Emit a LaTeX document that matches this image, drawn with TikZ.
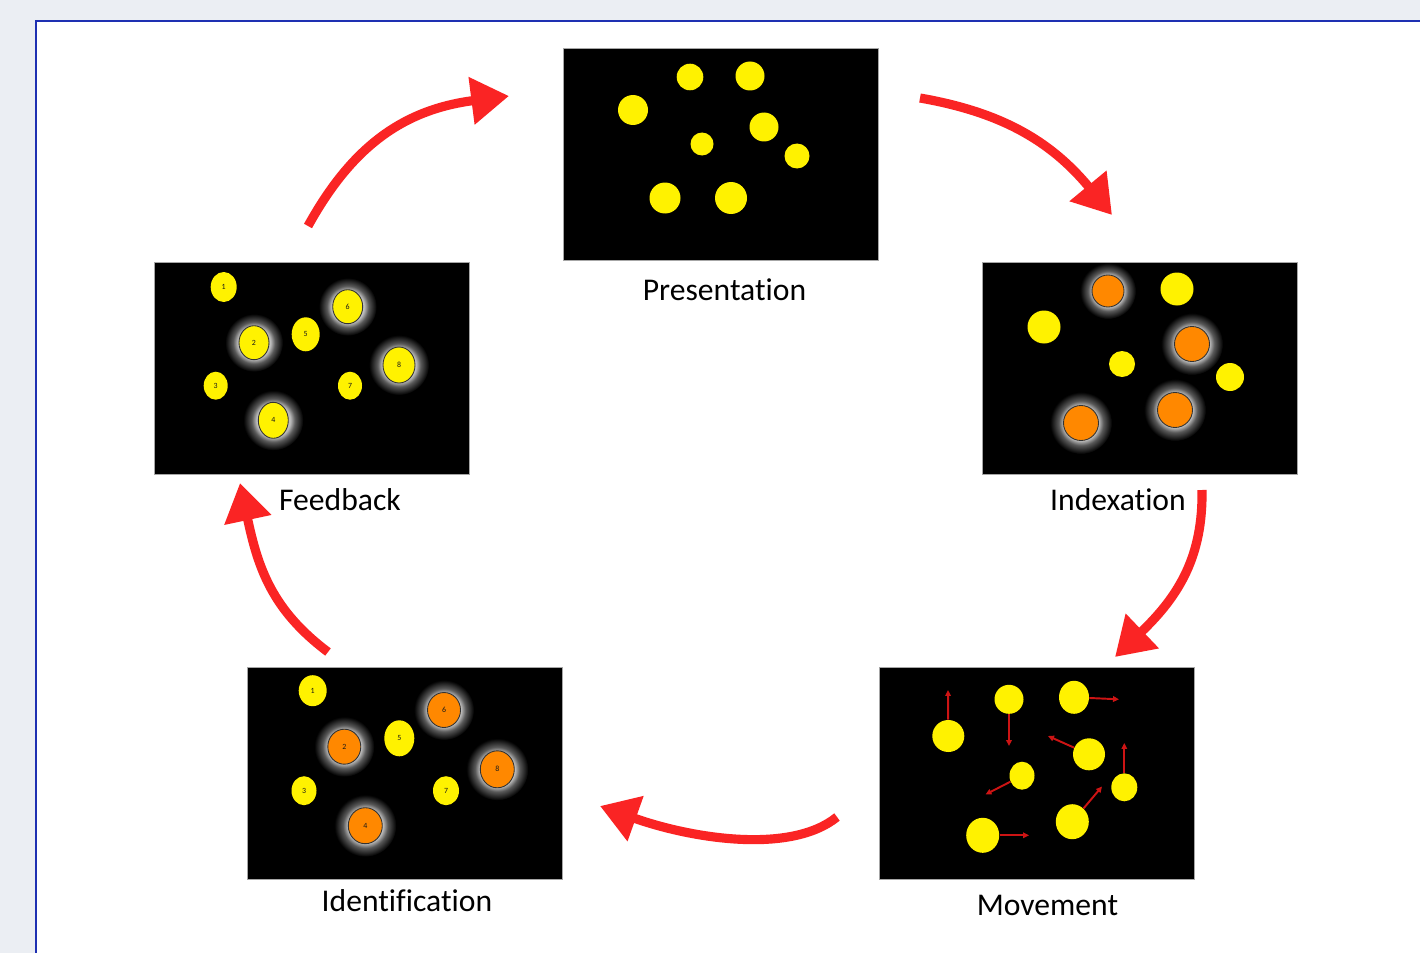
\documentclass[tikz,border=0pt]{standalone}
\usepackage{fontspec}
\setmainfont{Carlito}[Ligatures={NoCommon}]
\usetikzlibrary{arrows.meta,positioning,shapes.geometric}
\definecolor{pagegray}{RGB}{235,238,243}
\definecolor{frameblue}{RGB}{30,48,178}
\definecolor{cyclered}{RGB}{250,36,36}
\definecolor{movered}{RGB}{205,20,20}
\definecolor{ballyellow}{RGB}{255,242,0}
\definecolor{ballorange}{RGB}{255,136,0}
\pgfdeclareradialshading{ballglow}{\pgfpoint{0bp}{0bp}}{color(0bp)=(black!25); color(14bp)=(black!25); color(18bp)=(black!65); color(25bp)=(black); color(50bp)=(black)}
\pgfdeclarelayer{panels}
\pgfdeclarelayer{glows}
\pgfsetlayers{panels,glows,main}
\tikzset{
    screenbox/.style={draw=black!35, line width=0.6pt, fill=black, anchor=north west, inner sep=0pt, minimum width=6.3cm, minimum height=4.24cm},
    screenlabel/.style={font=\fontsize{18}{20}\selectfont, anchor=base, inner sep=0pt},
    cyclearrow/.style={draw=cyclered, line width=5.2pt, -{Triangle[length=21.5pt, width=26pt]}},
    moveline/.style={draw=movered, line width=1.1pt, -{Triangle[length=3.4pt, width=3.2pt]}},
    ballsize/.style 2 args={minimum width=#1*0.02cm, minimum height=#2*0.02cm},
    yellowball/.style={ellipse, fill=ballyellow, inner sep=0pt, font=\fontsize{4.5}{4.5}\selectfont, text=black!90},
    ringball/.style={yellowball, draw=black!80, line width=0.5pt},
    orangeball/.style={ringball, fill=ballorange},
    glow/.style={shading=ballglow}
}

\begin{document}
\begin{tikzpicture}[x=0.02cm, y=-0.02cm]
    \useasboundingbox (0,0) rectangle (1420,953);

    \begin{pgfonlayer}{panels}
        \fill[pagegray] (0,0) rectangle (1420,953);
        \fill[white] (36,21) rectangle (1420,953);
        \draw[frameblue, line width=1.3pt] (36,953) -- (36,21) -- (1420,21);

        \node[screenbox] (present) at (563,48) {};
        \node[screenbox] (index) at (982,262) {};
        \node[screenbox] (move) at (879,667) {};
        \node[screenbox] (ident) at (247,667) {};
        \node[screenbox] (feedback) at (154,262) {};
    \end{pgfonlayer}

    % labels
    \node[screenlabel] (presentlbl) at (724.5,300) {Presentation};
    \node[screenlabel] (indexlbl) at (1118,510) {Indexation};
    \node[screenlabel] (movelbl) at (1047.5,915) {Movement};
    \node[screenlabel] (identlbl) at (407,911) {Identification};
    \node[screenlabel] (feedbacklbl) at (340,510) {Feedback};

    % presentation
    \foreach \x/\y/\r in {633/110/15, 690/77/13.3, 750/76/14.5, 764/127/14.5, 702/144/11.5, 797/156/12.5, 665/198/15.5, 731/198/16}
        \fill[ballyellow] (\x,\y) circle[radius=\r*0.02cm];

    % indexation
    \node[orangeball, ballsize={32}{32}] (ix1) at (1108,291) {};
    \node[yellowball, ballsize={33}{33}] (ix2) at (1177,289) {};
    \node[yellowball, ballsize={33}{33}] (ix3) at (1044,327) {};
    \node[orangeball, ballsize={35}{35}] (ix4) at (1192,344) {};
    \node[yellowball, ballsize={26}{26}] (ix5) at (1122,364) {};
    \node[yellowball, ballsize={28}{28}] (ix6) at (1230,377) {};
    \node[orangeball, ballsize={35}{35}] (ix7) at (1081,423) {};
    \node[orangeball, ballsize={35}{35}] (ix8) at (1175,410) {};

    % movement
    \node[yellowball, ballsize={32}{32}] (mv1) at (948.3,736) {};
    \node[yellowball, ballsize={29}{29}] (mv2) at (1009,699.3) {};
    \node[yellowball, ballsize={30}{33}] (mv3) at (1074,697.3) {};
    \node[yellowball, ballsize={32}{32}] (mv4) at (1089,754.3) {};
    \node[yellowball, ballsize={26}{28}] (mv5) at (1124.3,787.3) {};
    \node[yellowball, ballsize={25}{28}] (mv6) at (1022,775.7) {};
    \node[yellowball, ballsize={33}{35}] (mv7) at (1072.3,821.7) {};
    \node[yellowball, ballsize={33}{35}] (mv8) at (982.7,835.3) {};
    \coordinate (mv1to) at (948,690);
    \coordinate (mv2to) at (1009,746);
    \coordinate (mv3to) at (1119,699.3);
    \coordinate (mv4to) at (1048,736);
    \coordinate (mv5to) at (1124.3,743);
    \coordinate (mv6to) at (985.5,794.5);
    \coordinate (mv7to) at (1102,786.5);
    \coordinate (mv8to) at (1029,835.3);
    \foreach \b in {mv1,mv2,mv3,mv4,mv5,mv6,mv7,mv8}
        \draw[moveline] (\b) -- (\b to);

    % identification
    \node[yellowball, ballsize={28}{31}] (id1) at (312.7,690.7) {1};
    \node[orangeball, ballsize={33}{35}] (id2) at (344.3,746.7) {2};
    \node[yellowball, ballsize={25}{29}] (id3) at (304,790.7) {3};
    \node[orangeball, ballsize={34}{36}] (id4) at (365.3,825.7) {4};
    \node[yellowball, ballsize={30}{36}] (id5) at (399.3,738.3) {5};
    \node[orangeball, ballsize={33}{35}] (id6) at (444,710) {6};
    \node[yellowball, ballsize={26}{29}] (id7) at (446,790.7) {7};
    \node[orangeball, ballsize={34}{37}] (id8) at (497.3,769.3) {8};

    % feedback
    \node[yellowball, ballsize={26}{30}] (fb1) at (223.7,287) {1};
    \node[ringball, ballsize={30}{34}] (fb2) at (254,342.7) {2};
    \node[yellowball, ballsize={24}{28}] (fb3) at (215.7,385.7) {3};
    \node[ringball, ballsize={30}{36}] (fb4) at (273.3,420.3) {4};
    \node[yellowball, ballsize={28}{34}] (fb5) at (305.7,334.3) {5};
    \node[ringball, ballsize={30}{34}] (fb6) at (347.7,306.7) {6};
    \node[yellowball, ballsize={24}{28}] (fb7) at (350,385.7) {7};
    \node[ringball, ballsize={32}{36}] (fb8) at (399,365) {8};

    \begin{pgfonlayer}{glows}
        \foreach \b/\r in {ix1/28, ix4/31, ix7/31, ix8/31, id2/30, id4/31, id6/30, id8/31, fb2/29, fb4/30, fb6/29, fb8/30}
            \shade[glow] (\b) circle[radius=\r*0.02cm];
    \end{pgfonlayer}

    % cycle
    \coordinate (fbout) at (308,226);
    \coordinate (presentin) at (509,96);
    \coordinate (presentout) at (920,98);
    \coordinate (indexin) at (1112,215);
    \coordinate (indexout) at (1202,490);
    \coordinate (movein) at (1115,657);
    \coordinate (moveout) at (837,817);
    \coordinate (identin) at (600,806);
    \coordinate (identout) at (328,652);
    \coordinate (fbin) at (240,483);

    \draw[cyclearrow] (fbout) .. controls (350,150) and (400,110) .. (presentin);
    \draw[cyclearrow] (presentout) .. controls (1000,112) and (1050,140) .. (indexin);
    \draw[cyclearrow] (indexout) .. controls (1203,555) and (1180,595) .. (movein);
    \draw[cyclearrow] (moveout) .. controls (790,855) and (690,838) .. (identin);
    \draw[cyclearrow] (identout) .. controls (272,610) and (258,568) .. (fbin);
\end{tikzpicture}
\end{document}
